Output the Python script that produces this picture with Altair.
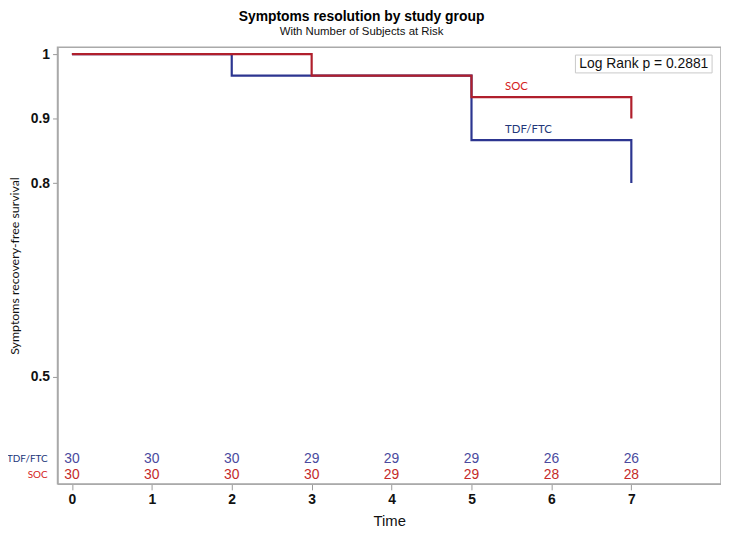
import altair as alt
import pandas as pd

# ---- data ----
time_tdf = [0, 2, 5, 7]
surv_tdf = [1.0, 0.9667, 0.8667, 0.8]
time_soc = [0, 3, 5, 7]
surv_soc = [1.0, 0.9667, 0.9333, 0.9]

risk_times = [0, 1, 2, 3, 4, 5, 6, 7]
risk_tdf = [30, 30, 30, 29, 29, 29, 26, 26]
risk_soc = [30, 30, 30, 30, 29, 29, 28, 28]

groups = ["TDF/FTC", "SOC"]
line_colors = {"TDF/FTC": "#2c3590", "SOC": "#b01f2c"}
risk_colors = {"TDF/FTC": "#4a4a9e", "SOC": "#c42a2a"}
label_colors = {"TDF/FTC": "#22367a", "SOC": "#d42020"}
y_ticks = [0.5, 0.8, 0.9, 1.0]
x_ticks = [0, 1, 2, 3, 4, 5, 6, 7]
p_text = "Log Rank p = 0.2881"

W, H = 670, 441
xscale = alt.Scale(domain=[-0.18, 8.122], nice=False, zero=False)
yscale = alt.Scale(domain=[0.3337, 1.0107], nice=False, zero=False)

surv = pd.concat([
    pd.DataFrame({"time": time_tdf, "surv": surv_tdf, "group": "TDF/FTC"}),
    pd.DataFrame({"time": time_soc, "surv": surv_soc, "group": "SOC"}),
])

layers = []
for g in groups:
    d = surv[surv.group == g]
    layers.append(
        alt.Chart(d).mark_line(interpolate="step-after", strokeWidth=2.2,
                               color=line_colors[g]).encode(
            x=alt.X("time:Q", scale=xscale,
                    axis=alt.Axis(values=x_ticks, title="Time", format="d",
                                  labelFontWeight="bold", labelFontSize=14,
                                  labelFont="Liberation Sans", labelColor="#111",
                                  titleFont="Liberation Sans", titleFontSize=15,
                                  titleFontWeight="normal", titleColor="#111",
                                  tickSize=6, labelPadding=3, titlePadding=7)),
            y=alt.Y("surv:Q", scale=yscale,
                    axis=alt.Axis(values=y_ticks, format="~g",
                                  title="Symptoms recovery-free survival",
                                  labelFontWeight="bold", labelFontSize=14,
                                  labelFont="Liberation Sans", labelColor="#111",
                                  titleFont="Lato", titleFontSize=12.5,
                                  titleFontWeight="normal", titleColor="#111",
                                  titleX=-43, titleY=H / 2, titleBaseline="middle",
                                  tickSize=5, labelPadding=3)),
        )
    )

# curve labels placed just above the final-but-one step of each curve
lab = pd.DataFrame({
    "group": groups,
    "time": [time_tdf[-2] + 0.42, time_soc[-2] + 0.42],
    "surv": [surv_tdf[-2], surv_soc[-2]],
})
for g in groups:
    layers.append(
        alt.Chart(lab[lab.group == g]).mark_text(
            align="left", baseline="middle", dy=-10, font="Lato", fontSize=11.5,
            color=label_colors[g]).encode(
            x=alt.X("time:Q", scale=xscale),
            y=alt.Y("surv:Q", scale=yscale),
            text="group:N",
        )
    )

# at-risk table
row_y = {"TDF/FTC": 416, "SOC": 432}
risk = pd.concat([
    pd.DataFrame({"time": risk_times, "n": risk_tdf, "group": "TDF/FTC"}),
    pd.DataFrame({"time": risk_times, "n": risk_soc, "group": "SOC"}),
])
for g in groups:
    layers.append(
        alt.Chart(risk[risk.group == g]).mark_text(
            baseline="middle", align="center", font="Liberation Sans",
            fontSize=14, color=risk_colors[g]).encode(
            x=alt.X("time:Q", scale=xscale),
            y=alt.value(row_y[g]),
            text="n:Q",
        )
    )
    layers.append(
        alt.Chart(pd.DataFrame({"group": [g]})).mark_text(
            baseline="middle", align="right", font="Lato", fontSize=10,
            color=label_colors[g]).encode(
            x=alt.value(-10), y=alt.value(row_y[g]), text="group:N")
    )

# log-rank box
layers.append(
    alt.Chart(pd.DataFrame({"t": [p_text]})).mark_rect(
        fill="white", stroke="#c8c8c8", strokeWidth=1).encode(
        x=alt.value(523), x2=alt.value(661), y=alt.value(8), y2=alt.value(26))
)
layers.append(
    alt.Chart(pd.DataFrame({"t": [p_text]})).mark_text(
        align="center", baseline="middle", font="Liberation Sans", fontSize=14,
        color="#111").encode(x=alt.value(592), y=alt.value(17.5), text="t:N")
)

chart = alt.layer(*layers).properties(
    width=W, height=H,
    autosize=alt.AutoSizeParams(type="none"),
    padding={"left": 50, "top": 37, "right": 0, "bottom": 42},
    title=alt.Title(
        "Symptoms resolution by study group",
        subtitle="With Number of Subjects at Risk",
        font="Liberation Sans", fontSize=14, fontWeight="bold", color="#000",
        subtitleFont="Liberation Sans", subtitleFontSize=11.5,
        subtitleColor="#111", subtitlePadding=2,
        anchor="middle", dx=-28, offset=10,
    ),
).configure_view(stroke="#aaaaaa", strokeWidth=1.5).configure_axis(
    grid=False, domainColor="#aaaaaa", tickColor="#999999", domainWidth=1.5
)

chart.save("out.html", embed_options={"renderer": "svg", "actions": False})
